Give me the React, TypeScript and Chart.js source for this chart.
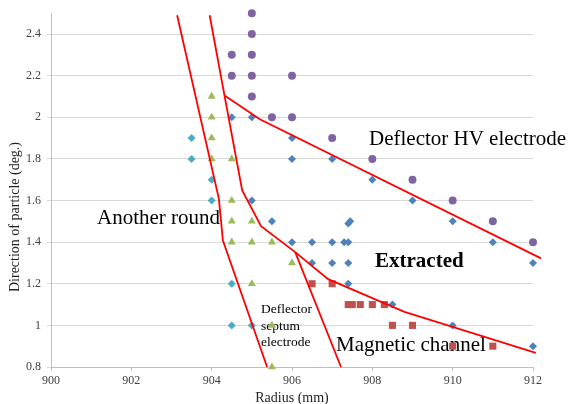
import React, { useEffect, useRef } from "react";
import { Chart, registerables } from "chart.js";

Chart.register(...registerables);

// ---- Data ----
const xTicks = [900, 902, 904, 906, 908, 910, 912];
const yTicks = [0.8, 1, 1.2, 1.4, 1.6, 1.8, 2, 2.2, 2.4];

const purpleCircles: [number, number][] = [
  [905, 2.5], [905, 2.4], [904.5, 2.3], [905, 2.3], [904.5, 2.2], [905, 2.2], [906, 2.2],
  [905, 2.1], [905.5, 2.0], [906, 2.0], [907, 1.9], [908, 1.8], [909, 1.7], [910, 1.6],
  [911, 1.5], [912, 1.4],
];

const blueDiamonds: [number, number][] = [
  [904.5, 2.0], [905, 2.0], [906, 1.9], [906, 1.8], [907, 1.8], [908, 1.7], [909, 1.6],
  [910, 1.5], [911, 1.4], [912, 1.3], [905, 1.6], [905.5, 1.5], [907.4, 1.49], [907.45, 1.5],
  [906, 1.4], [906.5, 1.4], [907, 1.4], [907.3, 1.4], [907.4, 1.4], [906.5, 1.3], [907, 1.3],
  [907.4, 1.3], [907.4, 1.2], [908.5, 1.1], [910, 1.0], [912, 0.9],
];

const cyanDiamonds: [number, number][] = [
  [903.5, 1.9], [903.5, 1.8], [904, 1.7], [904, 1.6], [904.5, 1.2], [904.5, 1.0], [905, 1.0],
];

const greenTriangles: [number, number][] = [
  [904, 2.1], [904, 2.0], [904, 1.9], [904, 1.8], [904.5, 1.8], [904.5, 1.6], [904.5, 1.5],
  [905, 1.5], [904.5, 1.4], [905, 1.4], [905.5, 1.4], [906, 1.3], [905, 1.2], [905.5, 1.0],
  [905.5, 0.8],
];

const redSquares: [number, number][] = [
  [906.5, 1.2], [907, 1.2], [907.4, 1.1], [907.5, 1.1], [907.7, 1.1], [908, 1.1], [908.3, 1.1],
  [908.5, 1.0], [909, 1.0], [910, 0.9], [911, 0.9],
];

// Boundary lines
const anotherRoundLine: [number, number][] = [
  [903.14, 2.49], [904.18, 1.608], [904.28, 1.408], [905.38, 0.8],
];
const septumLine: [number, number][] = [
  [903.95, 2.49], [904.32, 2.104], [904.76, 1.648], [905.23, 1.477], [906.08, 1.352],
  [906.9, 1.222], [908.8, 1.065], [912.07, 0.868],
];
const hvLine: [number, number][] = [
  [904.32, 2.104], [905.2, 1.99], [912.2, 1.322],
];
const magneticLine: [number, number][] = [
  [906.08, 1.352], [907.22, 0.8],
];

const SERIF = '"Liberation Serif", "Times New Roman", serif';

const toPts = (a: [number, number][]) => a.map(([x, y]) => ({ x, y }));

const textPlugin = {
  id: "annotTexts",
  beforeDatasetsDraw(chart: any) {
    const ctx = chart.ctx as CanvasRenderingContext2D;
    ctx.save();
    ctx.fillStyle = "#000";
    ctx.textBaseline = "alphabetic";
    ctx.textAlign = "left";
    ctx.font = `21px ${SERIF}`;
    ctx.fillText("Deflector HV electrode", 369, 145);
    ctx.fillText("Another round", 97, 224);
    ctx.fillText("Magnetic channel", 336, 351);
    ctx.font = `bold 21px ${SERIF}`;
    ctx.fillText("Extracted", 375, 267);
    ctx.font = `13.5px ${SERIF}`;
    ctx.fillText("Deflector", 261, 313);
    ctx.fillText("septum", 261, 329.5);
    ctx.fillText("electrode", 261, 346);
    ctx.restore();
  },
  afterDraw(chart: any) {
    const ctx = chart.ctx as CanvasRenderingContext2D;
    ctx.save();
    ctx.fillStyle = "#222";
    ctx.font = `14px ${SERIF}`;
    ctx.textAlign = "center";
    ctx.textBaseline = "middle";
    ctx.fillText("Radius (mm)", 292, 398);
    ctx.translate(15, 217);
    ctx.rotate(-Math.PI / 2);
    ctx.fillText("Direction of particle (deg.)", 0, 0);
    ctx.restore();
  },
};

export default function App() {
  const ref = useRef<HTMLCanvasElement | null>(null);
  useEffect(() => {
    if (!ref.current) return;
    const lineDs = (data: [number, number][]) => ({
      data: toPts(data),
      showLine: true,
      borderColor: "#FF0000",
      backgroundColor: "#FF0000",
      borderWidth: 1.8,
      pointRadius: 0,
      tension: 0,
      clip: false as any,
      order: 0,
    });
    const ptDs = (data: [number, number][], color: string, style: string, r: number) => ({
      data: toPts(data),
      showLine: false,
      pointStyle: style,
      pointRadius: r,
      pointBackgroundColor: color,
      pointBorderColor: color,
      pointBorderWidth: 0,
      backgroundColor: color,
      borderColor: color,
      clip: false as any,
      order: 1,
    });
    const chart = new Chart(ref.current, {
      type: "scatter",
      data: {
        datasets: [
          ptDs(purpleCircles, "#8064A2", "circle", 4),
          ptDs(blueDiamonds, "#4F81BD", "rectRot", 4),
          ptDs(cyanDiamonds, "#4BACC6", "rectRot", 4),
          ptDs(greenTriangles, "#9BBB59", "triangle", 4.6),
          ptDs(redSquares, "#C0504D", "rect", 5),
          lineDs(anotherRoundLine),
          lineDs(septumLine),
          lineDs(hvLine),
          lineDs(magneticLine),
        ] as any,
      },
      options: {
        responsive: false,
        animation: false,
        events: [],
        layout: { padding: { top: 12, right: 35, left: 0, bottom: 0 } },
        plugins: { legend: { display: false }, tooltip: { enabled: false } },
        scales: {
          x: {
            type: "linear",
            min: 900,
            max: 912,
            afterFit: (s: any) => { s.height = 37; },
            afterBuildTicks: (s: any) => { s.ticks = xTicks.map((v) => ({ value: v })); },
            ticks: {
              font: { family: SERIF, size: 12 },
              color: "#404040",
              padding: 3,
              maxRotation: 0,
            },
            grid: { drawOnChartArea: false, drawTicks: true, tickLength: 4, color: "#bfbfbf" },
            border: { color: "#bfbfbf" },
          },
          y: {
            type: "linear",
            min: 0.8,
            max: 2.5,
            afterFit: (s: any) => { s.width = 51; },
            afterBuildTicks: (s: any) => { s.ticks = yTicks.map((v) => ({ value: v })); },
            ticks: {
              font: { family: SERIF, size: 12 },
              color: "#404040",
              padding: 6,
              callback: (v: any) => String(Math.round(Number(v) * 10) / 10),
            },
            grid: { color: "#d9d9d9", drawTicks: true, tickLength: 4 },
            border: { color: "#bfbfbf" },
          },
        },
      },
      plugins: [textPlugin],
    });
    return () => chart.destroy();
  }, []);
  return (
    <div style={{ position: "absolute", left: 0, top: 0, width: 568, height: 404, background: "#fff" }}>
      <canvas ref={ref} width={568} height={404} style={{ width: 568, height: 404, display: "block" }} />
    </div>
  );
}
